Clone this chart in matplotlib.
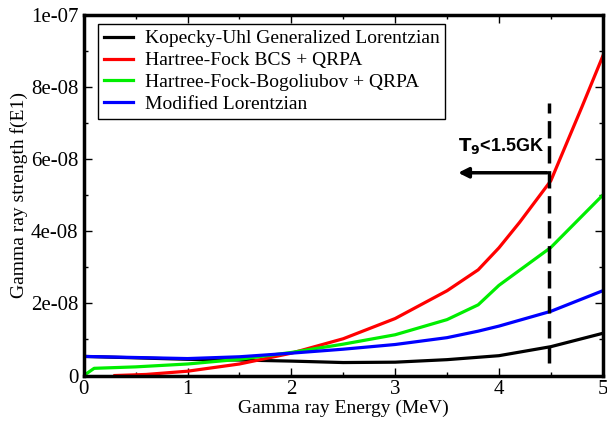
import numpy as np
import matplotlib as mpl
mpl.use('Agg')
import matplotlib.pyplot as plt
from matplotlib.ticker import MultipleLocator, FuncFormatter

# energies (MeV) and strength functions f(E1)
e_kopecky = [0.0, 0.5, 1.0, 1.5, 2.0, 2.5, 3.0, 3.5, 4.0, 4.5, 5.0]
f_kopecky = [0.53e-8, 0.49e-8, 0.45e-8, 0.43e-8, 0.40e-8, 0.36e-8, 0.37e-8, 0.44e-8, 0.55e-8, 0.80e-8, 1.17e-8]

e_hfbcs = [0.3, 0.6, 1.0, 1.5, 2.0, 2.5, 3.0, 3.5, 3.8, 4.0, 4.2, 4.5, 4.8, 5.0]
f_hfbcs = [0.0, 0.03e-8, 0.12e-8, 0.32e-8, 0.62e-8, 1.02e-8, 1.58e-8, 2.35e-8, 2.93e-8, 3.54e-8, 4.25e-8, 5.4e-8, 7.45e-8, 8.85e-8]

e_hfb = [0.0, 0.1, 0.5, 1.0, 1.5, 2.0, 2.5, 3.0, 3.5, 3.8, 4.0, 4.5, 5.0]
f_hfb = [0.0, 0.2e-8, 0.24e-8, 0.32e-8, 0.45e-8, 0.64e-8, 0.87e-8, 1.13e-8, 1.55e-8, 1.96e-8, 2.5e-8, 3.55e-8, 5.0e-8]

e_mlo = [0.0, 0.5, 1.0, 1.5, 2.0, 2.5, 3.0, 3.5, 3.8, 4.0, 4.5, 5.0]
f_mlo = [0.53e-8, 0.50e-8, 0.47e-8, 0.52e-8, 0.62e-8, 0.73e-8, 0.86e-8, 1.05e-8, 1.23e-8, 1.37e-8, 1.78e-8, 2.35e-8]

labels = ['Kopecky-Uhl Generalized Lorentzian', 'Hartree-Fock BCS + QRPA',
          'Hartree-Fock-Bogoliubov + QRPA', 'Modified Lorentzian']
colors = ['black', '#ff0000', '#00ee00', '#0000ff']

fig = plt.figure(figsize=(6.07, 4.21), dpi=100)
ax = fig.add_axes([0.138, 0.108, 0.855, 0.857])

serif = 'Liberation Serif'
ax.plot(e_kopecky, f_kopecky, color=colors[0], lw=2.3, label=labels[0])
ax.plot(e_hfbcs, f_hfbcs, color=colors[1], lw=2.3, label=labels[1])
ax.plot(e_hfb, f_hfb, color=colors[2], lw=2.3, label=labels[2])
ax.plot(e_mlo, f_mlo, color=colors[3], lw=2.3, label=labels[3])

# temperature limit marker
ax.plot([4.48, 4.48], [0.35e-8, 7.55e-8], color='black', lw=2.5, ls=(0, (5, 2.2)))
ax.annotate('', xy=(3.58, 5.62e-8), xytext=(4.49, 5.62e-8),
            arrowprops=dict(arrowstyle='-|>,head_width=0.3,head_length=0.6', color='black', lw=2.5))
ax.text(4.02, 6.35e-8, r'$\mathbf{T_9}$<1.5GK', fontsize=13, fontweight='bold',
        family='Liberation Sans', ha='center', va='center')

ax.set_xlim(0, 5)
ax.set_ylim(0, 1e-7)
ax.xaxis.set_major_locator(MultipleLocator(1))
ax.xaxis.set_minor_locator(MultipleLocator(0.5))
ax.yaxis.set_major_locator(MultipleLocator(2e-8))
ax.yaxis.set_minor_locator(MultipleLocator(1e-8))
ax.yaxis.set_major_formatter(FuncFormatter(lambda v, p: '0' if v == 0 else '%.0e' % v))
ax.tick_params(which='both', direction='in', top=True, right=True, width=1)
ax.tick_params(which='major', length=6, labelsize=15)
ax.tick_params(axis='x', which='major', pad=3)
ax.tick_params(axis='y', which='major', pad=4)
ax.tick_params(which='minor', length=3)
for lab in ax.get_xticklabels() + ax.get_yticklabels():
    lab.set_family(serif)
for s in ax.spines.values():
    s.set_linewidth(2.5)

ax.set_xlabel('Gamma ray Energy (MeV)', family=serif, fontsize=14, labelpad=1)
ax.set_ylabel('Gamma ray strength f(E1)', family=serif, fontsize=14, labelpad=2)

leg = ax.legend(loc='upper left', bbox_to_anchor=(0.02, 0.985), prop={'family': serif, 'size': 14},
                fancybox=False, edgecolor='black', framealpha=1, handlelength=1.5,
                borderpad=0.3, labelspacing=0.22, handletextpad=0.6, borderaxespad=0.2)
leg.get_frame().set_linewidth(1)

fig.savefig('out.png', dpi=100)
plt.close()
